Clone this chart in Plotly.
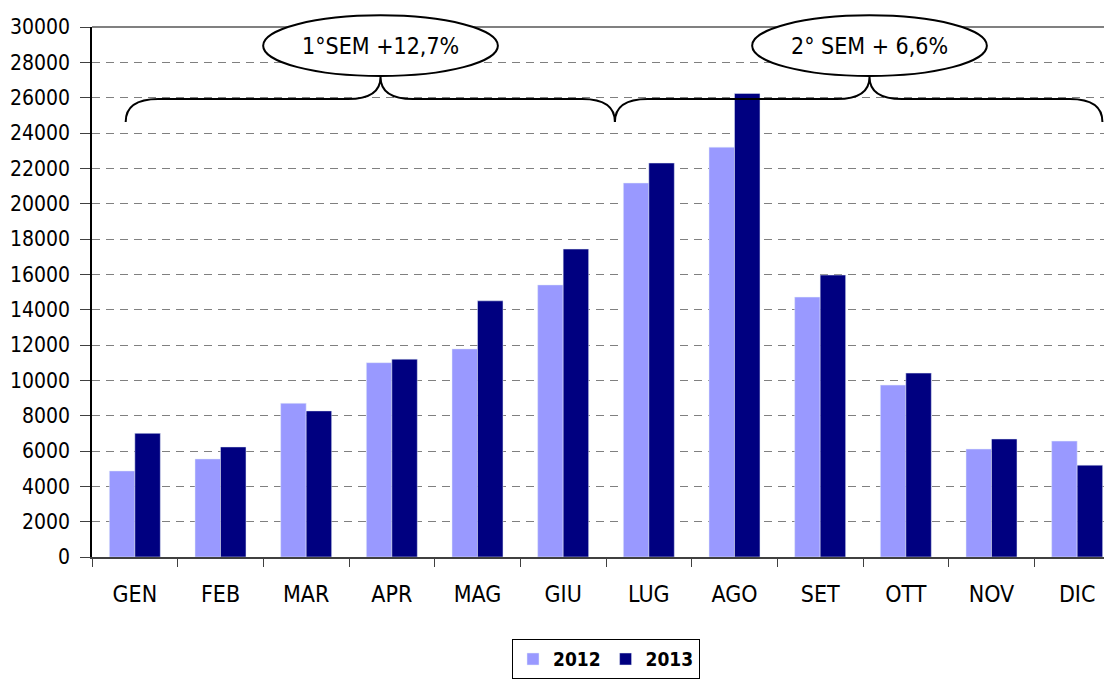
import plotly.graph_objects as go

# monthly values
months = ["GEN", "FEB", "MAR", "APR", "MAG", "GIU", "LUG", "AGO", "SET", "OTT", "NOV", "DIC"]
v2012 = [4870, 5550, 8700, 11000, 11780, 15400, 21170, 23200, 14710, 9730, 6110, 6560]
v2013 = [7000, 6230, 8270, 11200, 14500, 17430, 22300, 26240, 15960, 10410, 6680, 5200]

# brace annotations: (start, peak, end) in category units, label
brace_spans = [(-0.107, 2.868, 5.604), (5.604, 8.576, 11.295)]
brace_labels = ["1°SEM +12,7%", "2° SEM + 6,6%"]

FONT = "Liberation Sans Narrow, Arial Narrow, DejaVu Sans Condensed, sans-serif"

fig = go.Figure()
fig.add_trace(go.Bar(x=months, y=v2012, name="2012", marker_color="#9999FF"))
fig.add_trace(go.Bar(x=months, y=v2013, name="2013", marker_color="#000080"))

fig.update_layout(
    width=1112, height=680,
    margin=dict(l=84, r=0, t=19, b=131),
    plot_bgcolor="white", paper_bgcolor="white",
    barmode="group", bargap=0.405, bargroupgap=0,
    font=dict(family=FONT, color="black"),
    legend=dict(orientation="h", x=0.5, xanchor="center", y=-0.155, yanchor="top",
                bordercolor="black", borderwidth=1, font=dict(size=19, weight="bold"),
                itemwidth=30),
    showlegend=True,
)

fig.update_xaxes(
    type="category", range=[-0.5, 11.5], automargin=False,
    showline=True, linecolor="#404040", linewidth=2,
    ticks="outside", tickson="boundaries", ticklen=8, tickcolor="#404040",
    showgrid=False, tickfont=dict(size=23), ticklabelstandoff=15,
)
fig.update_yaxes(
    range=[0, 30000], dtick=2000, tickformat="d", automargin=False,
    showline=True, linecolor="black", linewidth=1.5,
    ticks="outside", ticklen=10, tickcolor="#404040",
    gridcolor="#808080", gridwidth=1, griddash="8px,6px",
    zeroline=False, tickfont=dict(size=21), ticklabelstandoff=6,
)

# top border of the plot area
fig.add_shape(type="line", xref="paper", yref="paper", x0=0, x1=1, y0=1, y1=1,
              line=dict(color="#808080", width=2))

# curly braces with the ellipse labels
for (a, c, b), lab in zip(brace_spans, brace_labels):
    yE, yH, yC = 0.8208, 0.8642, 0.9057
    d = 0.38
    path = (f"M {a},{yE} Q {a},{yH} {a+d},{yH} L {c-d},{yH} Q {c},{yH} {c},{yC} "
            f"Q {c},{yH} {c+d},{yH} L {b-d},{yH} Q {b},{yH} {b},{yE}")
    fig.add_shape(type="path", xref="x", yref="paper", path=path,
                  line=dict(color="black", width=2))
    fig.add_shape(type="circle", xref="x", yref="paper",
                  x0=c - 1.37, x1=c + 1.37, y0=0.9075, y1=1.022,
                  fillcolor="white", line=dict(color="black", width=2))
    fig.add_annotation(x=c, y=0.965, xref="x", yref="paper", text=lab,
                       xanchor="center", yanchor="middle",
                       showarrow=False, font=dict(size=23, family=FONT, color="black"))

fig.write_html("out.html")
